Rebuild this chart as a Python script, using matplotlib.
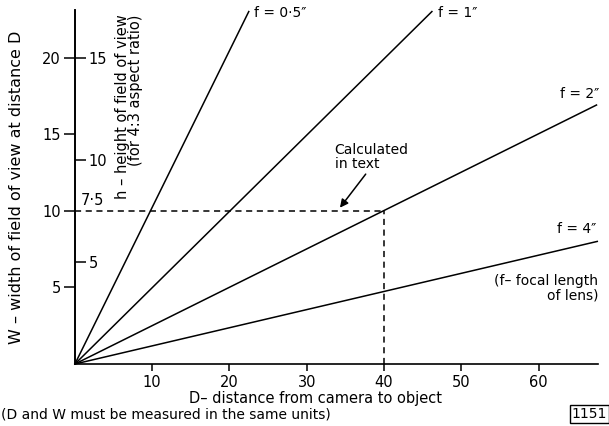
import matplotlib
matplotlib.use("Agg")
import matplotlib.pyplot as plt

# focal length lines: each runs from the origin to its end point
focal_labels = ['f = 0·5″', 'f = 1″', 'f = 2″', 'f = 4″']
d_end = [22.5, 46.2, 67.5, 67.6]
w_end = [23.0, 23.0, 16.9, 8.0]
label_d = [23.2, 47.0, 62.8, 62.4]
label_w = [22.9, 22.9, 17.6, 8.8]

# worked example from the text
calc_d = 40
calc_w = 10

w_ticks = [5, 10, 15, 20]
h_ticks = [5, 10, 15]
d_ticks = [10, 20, 30, 40, 50, 60]

xmax = 67.7
ymax = 23.1
aspect = 0.75  # h = 0.75 W for 4:3

plt.rcParams['font.family'] = 'DejaVu Sans'
plt.rcParams['font.size'] = 10.5

fig = plt.figure(figsize=(6.09, 4.26), dpi=100)
ax = fig.add_axes([0.123, 0.1455, 0.859, 0.831])

for i in range(len(d_end)):
    ax.plot([0, d_end[i]], [0, w_end[i]], color='black', lw=1.1, clip_on=False)
    ax.text(label_d[i], label_w[i], focal_labels[i], ha='left', va='center', fontsize=10)

# dashed construction lines
ax.plot([0, calc_d], [calc_w, calc_w], color='black', lw=1.1, ls=(0, (4, 3)))
ax.plot([calc_d, calc_d], [0, calc_w], color='black', lw=1.1, ls=(0, (4, 3)))

ax.annotate('Calculated\nin text', xy=(34.3, 10.2), xytext=(33.6, 14.4),
            ha='left', va='top', fontsize=10, linespacing=1.0,
            arrowprops=dict(arrowstyle='-|>', color='black', lw=1.1,
                            shrinkA=0, shrinkB=0, mutation_scale=12,
                            relpos=(0.45, 0.0)))

ax.text(xmax, 5.9, '(f– focal length\nof lens)', ha='right', va='top',
        fontsize=10, linespacing=1.1)

ax.set_xlim(0, xmax)
ax.set_ylim(0, ymax)
ax.spines['top'].set_visible(False)
ax.spines['right'].set_visible(False)
ax.spines['left'].set_linewidth(1.2)
ax.spines['bottom'].set_linewidth(1.2)

ax.set_xticks(d_ticks)
ax.set_yticks(w_ticks)
ax.tick_params(axis='x', direction='out', length=5, width=1.1, pad=3)
ax.tick_params(axis='y', direction='out', length=8, width=1.1, pad=2)

ax.set_ylabel('W – width of field of view at distance D', fontsize=11.5, labelpad=14)
ax.set_xlabel('D– distance from camera to object', fontsize=10.5, labelpad=2)
ax.xaxis.set_label_coords(0.46, -0.075)
ax.yaxis.set_label_coords(-0.098, 0.5)

# h axis sharing the left spine, ticks pointing into the plot
hax = ax.twinx()
hax.set_ylim(0, ymax * aspect)
hax.spines['right'].set_position(('axes', 0))
for s in ['top', 'left', 'bottom']:
    hax.spines[s].set_visible(False)
hax.spines['right'].set_linewidth(1.2)
hax.set_yticks(h_ticks)
hax.tick_params(axis='y', direction='out', length=8, width=1.1, pad=2)
hax.text(0.8, calc_w * aspect + 0.15, '7·5', ha='left', va='bottom', fontsize=10.5)
ax.text(7.0, 22.8, 'h – height of field of view\n(for 4:3 aspect ratio)',
        rotation=90, ha='center', va='top', fontsize=10.5, linespacing=0.9,
        multialignment='right')

fig.text(0.002, 0.028, '(D and W must be measured in the same units)',
         ha='left', va='center', fontsize=10)
fig.text(0.968, 0.028, '1151', ha='center', va='center', fontsize=10,
         bbox=dict(boxstyle='square,pad=0.15', fc='white', ec='black', lw=1))

fig.savefig('out.png', dpi=100)
